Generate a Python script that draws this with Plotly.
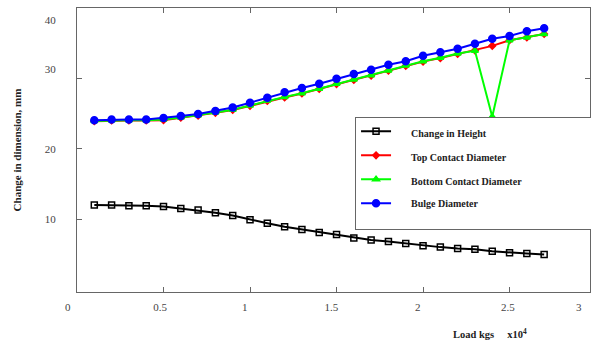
import plotly.graph_objects as go

# Load (x 10^4 kgs)
load = [0.1, 0.2, 0.3, 0.4, 0.5, 0.6, 0.7, 0.8, 0.9, 1.0, 1.1, 1.2, 1.3, 1.4,
        1.5, 1.6, 1.7, 1.8, 1.9, 2.0, 2.1, 2.2, 2.3, 2.4, 2.5, 2.6, 2.7]

height = [12.0, 12.0, 11.9, 11.9, 11.8, 11.5, 11.3, 10.9, 10.5, 9.9, 9.4, 8.9, 8.5, 8.1,
          7.8, 7.3, 7.0, 6.8, 6.5, 6.2, 6.0, 5.8, 5.7, 5.4, 5.2, 5.1, 4.95]

top_contact = [23.95, 24.05, 24.05, 24.05, 24.1, 24.45, 24.75, 25.15, 25.55, 26.15, 26.85, 27.35, 27.9, 28.55,
               29.25, 29.85, 30.45, 31.15, 31.85, 32.45, 32.95, 33.55, 34.05, 34.7, 35.5, 35.9, 36.4]

bottom_contact = [24.0, 24.1, 24.1, 24.1, 24.2, 24.5, 24.8, 25.2, 25.6, 26.2, 26.9, 27.4, 27.95, 28.6,
                  29.3, 29.9, 30.5, 31.2, 31.9, 32.5, 33.0, 33.6, 34.0, 24.6, 35.5, 35.9, 36.4]

bulge = [24.1, 24.2, 24.2, 24.2, 24.4, 24.7, 25.0, 25.4, 25.9, 26.6, 27.3, 28.1, 28.7, 29.3,
         30.0, 30.7, 31.3, 32.0, 32.5, 33.3, 33.8, 34.3, 35.0, 35.7, 36.1, 36.8, 37.2]

# tick marks and (slightly offset) tick labels as printed in the figure
x_tick_marks = [0.5, 1.0, 1.5, 2.0, 2.5]
x_label_pos = [0.48, 0.97, 1.47, 1.97, 2.49, 2.90]
x_label_text = ["0.5", "1", "1.5", "2", "2.5", "3"]
y_tick_marks = [10, 20, 30]
y_label_pos = [10, 20, 31.4, 38.3]
y_label_text = ["10", "20", "30", "40"]

NB = "\u00a0"
lead = NB * 6
trail = NB * 29

series = [
    ("Change in Height", height, "black", "square-open", 6),
    ("Top Contact Diameter", top_contact, "#ff0000", "diamond", 5),
    ("Bottom Contact Diameter", bottom_contact, "#00ff00", "triangle-up", 6),
    ("Bulge Diameter", bulge, "#0000ff", "circle", 7),
]

fig = go.Figure()
for i, (name, vals, col, sym, ms) in enumerate(series):
    label = lead + name + trail
    if i == len(series) - 1:
        label += "<br>" + NB
    fig.add_trace(go.Scatter(
        x=load, y=vals, mode="lines+markers", name=label,
        legendgroup=f"g{i}",
        line=dict(color=col, width=2),
        marker=dict(color=col, symbol=sym, size=ms,
                    line=dict(color=col, width=1.5)),
    ))

font_serif = "Liberation Serif, Times New Roman, serif"

fig.update_layout(
    width=591, height=341,
    margin=dict(l=77, r=1, t=8, b=49, autoexpand=False),
    paper_bgcolor="white", plot_bgcolor="white",
    font=dict(family=font_serif, color="#333333", size=11),
    showlegend=True,
    legend=dict(
        x=0.542, y=0.615, xanchor="left", yanchor="top",
        bgcolor="white", bordercolor="#666666", borderwidth=1,
        font=dict(family=font_serif, size=10, color="#222222", weight="bold"),
        tracegroupgap=5, traceorder="grouped", valign="top",
    ),
    xaxis=dict(
        range=[0, 2.965], showgrid=False, zeroline=False, automargin=False,
        showline=True, linecolor="#666666", linewidth=1, mirror="ticks",
        tickvals=x_label_pos, ticktext=x_label_text, ticks="",
        tickfont=dict(family=font_serif, size=11, color="#444444"),
        ticklabelstandoff=5,
        minor=dict(tickvals=x_tick_marks, ticks="inside", ticklen=5,
                   tickcolor="#666666", tickwidth=1),
    ),
    yaxis=dict(
        range=[-0.4, 40.1], showgrid=False, zeroline=False, automargin=False,
        showline=True, linecolor="#666666", linewidth=1, mirror="ticks",
        tickvals=y_label_pos, ticktext=y_label_text, ticks="",
        tickfont=dict(family=font_serif, size=11, color="#444444"),
        ticklabelstandoff=18,
        minor=dict(tickvals=y_tick_marks, ticks="inside", ticklen=5,
                   tickcolor="#666666", tickwidth=1),
        title=dict(text="Change in dimension, mm", standoff=20,
                   font=dict(family=font_serif, size=11, color="#222222",
                             weight="bold")),
    ),
    annotations=[
        dict(text="0", xref="paper", yref="paper", x=-0.018, y=-0.052,
             showarrow=False, xanchor="center", yanchor="middle",
             font=dict(family=font_serif, size=11, color="#444444")),
        dict(text="<b>Load kgs" + NB * 5 + "x10<sup>4</sup></b>",
             xref="paper", yref="paper", x=0.806, y=-0.145,
             showarrow=False, xanchor="center", yanchor="middle",
             font=dict(family=font_serif, size=10.5, color="#222222")),
    ],
)

fig.write_html("out.html",
               config={"displayModeBar": False},
               post_script="document.body.style.margin='0';")
